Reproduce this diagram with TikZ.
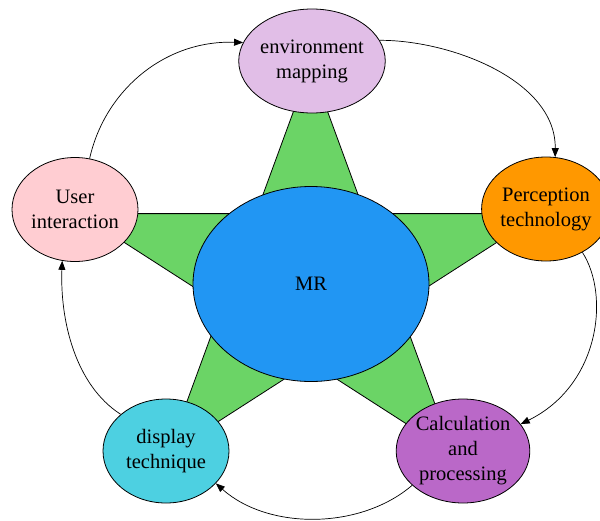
\documentclass[tikz,border=0pt]{standalone}
\usepackage{fontspec}
\setmainfont{Liberation Serif}
\usetikzlibrary{shapes.geometric,arrows.meta}

\definecolor{starGreen}{HTML}{6BD466}
\definecolor{mrBlue}{HTML}{2196F3}
\definecolor{envLilac}{HTML}{E1BEE7}
\definecolor{perOrange}{HTML}{FF9800}
\definecolor{calcPurple}{HTML}{BA68C8}
\definecolor{dispCyan}{HTML}{4DD0E1}
\definecolor{uiPink}{HTML}{FFCDD2}

\tikzset{
  bubble/.style={ellipse, draw=black, line width=0.8pt, inner sep=0pt,
    minimum width=126pt, minimum height=104pt, align=center,
    font=\fontsize{20.5}{25}\selectfont},
  hub/.style={ellipse, draw=black, line width=0.8pt, fill=mrBlue, inner sep=0pt,
    minimum width=236pt, minimum height=195pt,
    font=\fontsize{20.5}{25}\selectfont},
  link/.style={draw=black, line width=0.7pt, -{Triangle[length=9pt,width=7pt]}},
  starfill/.style={fill=starGreen, draw=black, line width=0.8pt, line join=miter}
}

\begin{document}
\begin{tikzpicture}[x=1pt,y=-1pt]
  \useasboundingbox (0,0) rectangle (600,520);

  % five-pointed star behind the hub
  \draw[starfill]
    (310.5,65) -- (365,213.6) -- (541.6,213.6) -- (398.8,305.4)
    -- (453.3,454) -- (310.5,362.2) -- (167.7,454) -- (222.2,305.4)
    -- (79.4,213.6) -- (256,213.6) -- cycle;

  % central hub
  \node[hub] (mr) at (311,284) {MR};

  % surrounding stages
  \node[bubble, fill=envLilac]   (env)  at (312,61)  {environment\\mapping};
  \node[bubble, fill=perOrange]  (per)  at (546,209) {Perception\\technology};
  \node[bubble, fill=calcPurple] (calc) at (463,451) {Calculation\\and\\processing};
  \node[bubble, fill=dispCyan]   (disp) at (166,451) {display\\technique};
  \node[bubble, fill=uiPink]     (ui)   at (75,209.5) {User\\interaction};

  % clockwise cycle
  \draw[link] (ui.74)   .. controls (105,90)  and (165,40)  .. (env.165);
  \draw[link] (env.17)  .. controls (450,40)  and (556,80)  .. (per.80);
  \draw[link] (per.-50) .. controls (610,295) and (600,385) .. (calc.25);
  \draw[link] (calc.214).. controls (360,530) and (268,530) .. (disp.-33);
  \draw[link] (disp.141).. controls (75,385)  and (60,320)  .. (ui.-104);
\end{tikzpicture}
\end{document}
